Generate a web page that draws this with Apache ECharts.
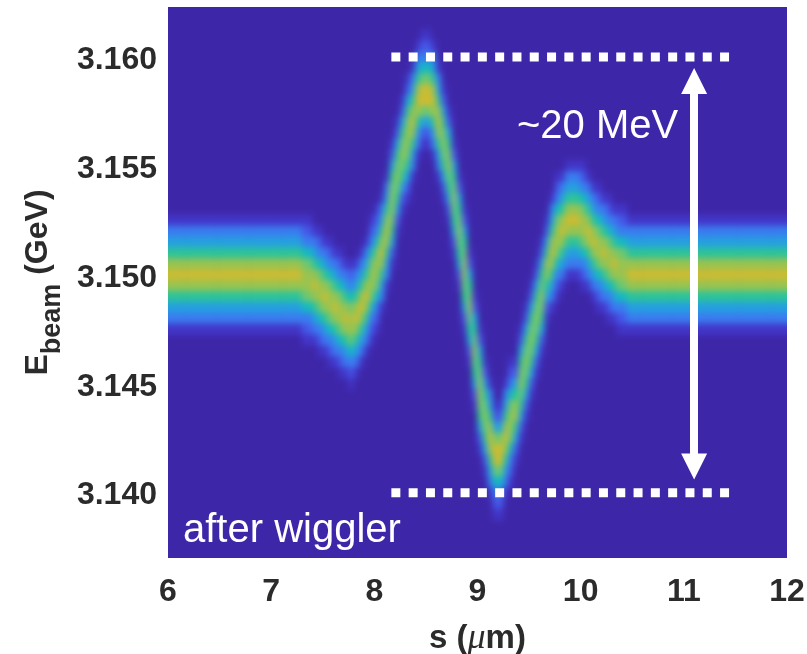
<!DOCTYPE html>
<html>
<head>
<meta charset="utf-8">
<style>html,body{margin:0;padding:0;background:#fff}#c{width:807px;height:654px}</style>
<script src="https://cdn.jsdelivr.net/npm/echarts@6/dist/echarts.min.js"></script>
</head>
<body>
<div id="c"></div>
<script>
// Tick labels
const sTicks = [6, 7, 8, 9, 10, 11, 12];
const eTicks = [3.140, 3.145, 3.150, 3.155, 3.160];
// Colour levels 0 (background) .. 9 (densest)
const palette = ['#3e26a8','#4236c8','#4558e8','#3a7cf0','#25a0e0','#14bac0','#2cc49a','#6ec870','#98c450','#ccbc32'];
// Grid of the density picture
const sFirst = 6.025, sStep = 0.05, eTop = 3.162, eStep = 0.0005;
// Density per column: [repeat, first row from top, levels downward]
const columns = [
[26,19,"13468986431"],[2,19,"123578875321"],[1,20,"13468986431"],[1,20,"123578875321"],
[1,21,"13468986431"],[1,21,"123578875321"],[1,22,"13468986431"],[1,22,"123578875321"],
[1,23,"13468986431"],[1,23,"123578875321"],[1,23,"13468986431"],[1,22,"13468986431"],
[1,21,"13468986431"],[1,19,"123578875321"],[1,18,"123578875321"],[1,17,"13468986431"],
[1,15,"13468986431"],[1,12,"124678876421"],[1,10,"12467876421"],[1,8,"12467876421"],
[1,6,"124678876421"],[1,5,"13468986431"],[1,3,"13468986431"],[2,2,"12357997421"],
[1,3,"13468986431"],[1,5,"13468986431"],[1,7,"12467876421"],[1,9,"12467876421"],
[1,12,"12467876421"],[1,15,"12467876421"],[1,18,"124678876421"],[1,22,"12467876421"],
[1,26,"12467876421"],[1,29,"124678876421"],[1,32,"12467876421"],[1,34,"13468986431"],
[2,36,"12479975321"],[1,34,"13468986431"],[1,32,"123578875321"],[1,32,"1246886421"],
[1,29,"12467876421"],[1,27,"12467876421"],[1,25,"12467876421"],[1,23,"12467876421"],
[1,21,"12467876421"],[1,19,"1246886421"],[1,17,"13468986431"],[1,15,"123578875321"],
[1,15,"13468986431"],[3,14,"13468986431"],[1,14,"123578875321"],[1,15,"13468986431"],
[1,16,"13468986431"],[1,16,"123578875321"],[1,17,"13468986431"],[1,17,"123578875321"],
[1,18,"13468986431"],[2,18,"123578875321"],[31,19,"13468986431"]
];
// Annotations
const dottedS = [8.165, 11.44];
const dottedE = [3.160, 3.140];
const arrowS = 11.1;
const arrowE = [3.1589, 3.1412];

const cells = [];
let col = 0;
columns.forEach(([n, top, levels]) => {
  for (let k = 0; k < n; k++, col++) {
    for (let j = 0; j < levels.length; j++) {
      cells.push([sFirst + col * sStep, eTop - (top + j) * eStep, +levels[j]]);
    }
  }
});
const sLast = sFirst + (col - 1) * sStep;

const plot = {left: 168, top: 7, right: 787, bottom: 558};
const font = '"Liberation Sans", Arial, sans-serif';
const ink = '#2b2b2b';
const chart = echarts.init(document.getElementById('c'), null, {renderer: 'canvas'});
const axisBase = {
  zlevel: 1, axisLine: {show: false}, axisTick: {show: false}, splitLine: {show: false}
};
chart.setOption({
  animation: false,
  backgroundColor: 'transparent',
  grid: {left: plot.left, top: plot.top, width: plot.right - plot.left, height: plot.bottom - plot.top, outerBoundsMode: 'none'},
  graphic: [
    {type: 'rect', zlevel: 0, z: -10, silent: true,
     shape: {x: plot.left - 30, y: plot.top - 30, width: plot.right - plot.left + 60, height: plot.bottom - plot.top + 60},
     style: {fill: palette[0]}},
    {type: 'text', zlevel: 1, z: 20, left: 183, top: 511, silent: true,
     style: {text: 'after wiggler', fill: '#fff', font: '40px ' + font}},
    {type: 'text', zlevel: 1, z: 20, left: 517, top: 107, silent: true,
     style: {text: '~20 MeV', fill: '#fff', font: '40px ' + font}}
  ],
  xAxis: Object.assign({}, axisBase, {
    type: 'value', min: 6, max: 12, interval: 1,
    axisLabel: {color: ink, fontFamily: font, fontWeight: 'bold', fontSize: 32, margin: 18,
      customValues: sTicks, showMinLabel: true, showMaxLabel: true},
    name: '{b|s (}{mu|\u03bc}{b|m)}', nameLocation: 'middle', nameGap: 63,
    nameTextStyle: {rich: {
      b: {fontFamily: font, fontWeight: 'bold', fontSize: 33, color: ink},
      mu: {fontFamily: '"Liberation Serif", serif', fontStyle: 'italic', fontSize: 36, color: ink}
    }}
  }),
  yAxis: Object.assign({}, axisBase, {
    type: 'value', min: 3.137, max: 3.1623,
    axisLabel: {margin: 11, customValues: eTicks, formatter: v => '{t|' + v.toFixed(3) + '}',
      rich: {t: {color: ink, fontFamily: font, fontWeight: 'bold', fontSize: 32, padding: [6, 0, 0, 0]}}},
    name: '{b|E}{s|beam}{b| (GeV)}', nameLocation: 'middle', nameGap: 99,
    nameTextStyle: {rich: {
      b: {fontFamily: font, fontWeight: 'bold', fontSize: 32, color: ink},
      s: {fontFamily: font, fontWeight: 'bold', fontSize: 27, color: ink, verticalAlign: 'bottom', padding: [28, 0, 0, 0]}
    }}
  }),
  series: [
    {
      type: 'custom', zlevel: 0, z: 1, silent: true, clip: false,
      coordinateSystem: 'cartesian2d',
      encode: {x: 0, y: 1},
      data: cells,
      renderItem: (params, api) => {
        const s = api.value(0);
        const p = api.coord([s, api.value(1)]);
        const sz = api.size([sStep, eStep]);
        let x0 = p[0] - sz[0] / 2, x1 = p[0] + sz[0] / 2;
        if (s === sFirst) x0 -= 20;
        if (s === sLast) x1 += 20;
        return {type: 'rect',
          shape: {x: x0 - 0.3, y: p[1] - sz[1] / 2 - 0.3, width: x1 - x0 + 0.6, height: sz[1] + 0.6},
          style: {fill: palette[api.value(2)]}};
      }
    },
    {
      type: 'line', zlevel: 1, z: 5, silent: true, symbol: 'none',
      data: [[dottedS[0], dottedE[0]], [dottedS[1], dottedE[0]]],
      lineStyle: {color: '#fff', width: 9, type: [9, 8.3], cap: 'butt'}
    },
    {
      type: 'line', zlevel: 1, z: 5, silent: true, symbol: 'none',
      data: [[dottedS[0], dottedE[1]], [dottedS[1], dottedE[1]]],
      lineStyle: {color: '#fff', width: 9, type: [9, 8.3], cap: 'butt'}
    },
    {
      type: 'line', zlevel: 1, z: 6, silent: true, symbol: 'none', data: [],
      markLine: {
        zlevel: 1, silent: true, animation: false, symbol: ['triangle', 'triangle'], symbolSize: 26,
        label: {show: false},
        lineStyle: {color: '#fff', width: 8, type: 'solid', opacity: 1},
        itemStyle: {color: '#fff'},
        data: [[{coord: [arrowS, arrowE[0]]}, {coord: [arrowS, arrowE[1]]}]]
      }
    }
  ]
});
const canv = document.querySelectorAll('#c canvas');
if (canv.length > 1) {
  canv[0].style.filter = 'blur(3px)';
  canv[0].style.clipPath = `inset(${plot.top}px ${807 - plot.right}px ${654 - plot.bottom}px ${plot.left}px)`;
}
</script>
</body>
</html>
